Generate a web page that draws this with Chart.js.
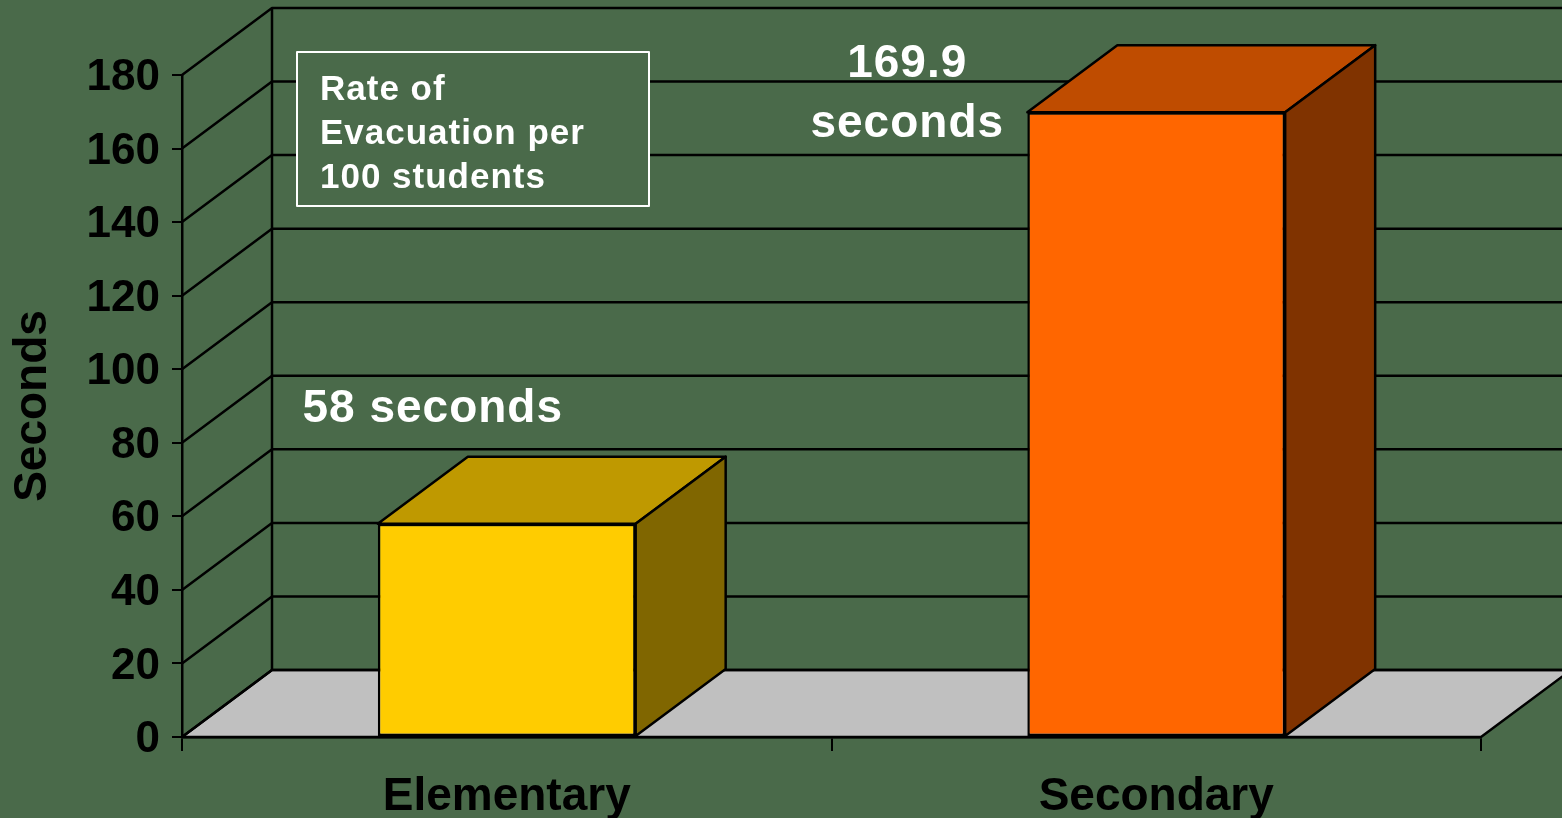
<!DOCTYPE html>
<html>
<head>
<meta charset="utf-8">
<title>Rate of Evacuation per 100 students</title>
<script src="https://cdn.jsdelivr.net/npm/chart.js@4.4.1/dist/chart.umd.min.js"></script>
<style>
  html, body { margin: 0; padding: 0; background: #4a6a4a; overflow: hidden; }
  #wrap { width: 1562px; height: 818px; position: relative; }
</style>
</head>
<body>
<div id="wrap"><canvas id="myChart"></canvas></div>
<script>
// Chart data

const categories = ["Elementary", "Secondary"];
const seconds = [58, 169.9];
const barLabels = [["58 seconds"], ["169.9", "seconds"]];
const yTicks = [0, 20, 40, 60, 80, 100, 120, 140, 160, 180];
const noteLines = ["Rate of", "Evacuation per", "100 students"];

// Colours of the boxes: front, top and side faces
const frontColors = ["#ffcc00", "#ff6600"];
const topColors = ["#bf9900", "#bf4c00"];
const sideColors = ["#806600", "#803300"];

const bgColor = "#4a6a4a";
const fontFamily = "'Liberation Sans', Arial, sans-serif";

// Depth of the 3D look (pixels to the right and up)
const depthX = 90;
const depthY = -67;

// Where the value labels sit, measured from the bar centre and bar top
const labelShift = [{dx: -74, dy: -102}, {dx: -249, dy: -35}];


const threeD = {
    id: "threeD",

    // back wall and floor go under the bars
    beforeDatasetsDraw(chart) {
        const ctx = chart.ctx;
        const area = chart.chartArea;
        const yScale = chart.scales.y;

        ctx.save();
        ctx.lineWidth = 2.5;
        ctx.strokeStyle = "#000";
        ctx.lineJoin = "round";

        // floor
        ctx.beginPath();
        ctx.moveTo(area.left, area.bottom);
        ctx.lineTo(area.left + depthX, area.bottom + depthY);
        ctx.lineTo(area.right + depthX, area.bottom + depthY);
        ctx.lineTo(area.right, area.bottom);
        ctx.closePath();
        ctx.fillStyle = "#c0c0c0";
        ctx.fill();
        ctx.stroke();

        // side wall diagonals and back wall gridlines
        for (let v of yTicks) {
            let py = yScale.getPixelForValue(v);
            ctx.beginPath();
            ctx.moveTo(area.left, py);
            ctx.lineTo(area.left + depthX, py + depthY);
            ctx.lineTo(chart.width, py + depthY);
            ctx.stroke();
        }

        // back corner
        ctx.beginPath();
        ctx.moveTo(area.left + depthX, area.top + depthY);
        ctx.lineTo(area.left + depthX, area.bottom + depthY);
        ctx.stroke();

        // text box on the wall
        const bx = area.left + 115;
        const by = area.top - 23;
        ctx.fillStyle = bgColor;
        ctx.fillRect(bx, by, 352, 154);
        ctx.lineWidth = 2;
        ctx.strokeStyle = "#fff";
        ctx.strokeRect(bx, by, 352, 154);
        ctx.fillStyle = "#fff";
        ctx.font = "bold 35px " + fontFamily;
        ctx.letterSpacing = "1px";
        ctx.textAlign = "left";
        ctx.textBaseline = "alphabetic";
        noteLines.forEach((line, i) => {
            ctx.fillText(line, bx + 23, by + 48 + i * 44);
        });

        ctx.restore();
    },

    // top and side faces of each bar, then the value labels
    afterDatasetsDraw(chart) {
        const ctx = chart.ctx;
        const bars = chart.getDatasetMeta(0).data;

        ctx.save();
        ctx.lineWidth = 2.5;
        ctx.strokeStyle = "#000";
        ctx.lineJoin = "round";

        bars.forEach((bar, i) => {
            let left = bar.x - bar.width / 2;
            let right = bar.x + bar.width / 2;
            let top = bar.y;
            let base = bar.base;

            // top face
            ctx.beginPath();
            ctx.moveTo(left, top);
            ctx.lineTo(left + depthX, top + depthY);
            ctx.lineTo(right + depthX, top + depthY);
            ctx.lineTo(right, top);
            ctx.closePath();
            ctx.fillStyle = topColors[i];
            ctx.fill();
            ctx.stroke();

            // side face
            ctx.beginPath();
            ctx.moveTo(right, top);
            ctx.lineTo(right + depthX, top + depthY);
            ctx.lineTo(right + depthX, base + depthY);
            ctx.lineTo(right, base);
            ctx.closePath();
            ctx.fillStyle = sideColors[i];
            ctx.fill();
            ctx.stroke();

            // value label
            ctx.fillStyle = "#fff";
            ctx.font = "bold 46px " + fontFamily;
            ctx.letterSpacing = "1px";
            ctx.textAlign = "center";
            ctx.textBaseline = "alphabetic";
            barLabels[i].forEach((line, k) => {
                ctx.fillText(line, bar.x + labelShift[i].dx, top + labelShift[i].dy + k * 60);
            });
        });

        ctx.restore();
    }
};


let chart = new Chart("myChart", {
    type: "bar",
    data: {
        labels: categories,
        datasets: [{
            label: "Seconds",
            data: seconds,
            backgroundColor: frontColors,
            borderColor: "#000",
            borderWidth: 2.5,
            borderSkipped: false,
            categoryPercentage: 1,
            barPercentage: 0.397
        }]
    },
    options: {
        responsive: true,
        maintainAspectRatio: false,
        animation: false,
        layout: {padding: {top: 75, right: 81, left: 0, bottom: 0}},
        plugins: {
            legend: {display: false},
            tooltip: {enabled: false}
        },
        scales: {
            x: {
                z: 1,
                afterFit: s => { s.height = 81; },
                grid: {
                    drawOnChartArea: false,
                    drawTicks: true,
                    tickLength: 14,
                    color: "#000",
                    lineWidth: 2
                },
                border: {display: true, color: "#000", width: 2.5},
                ticks: {
                    color: "#000",
                    padding: 19,
                    font: {family: fontFamily, size: 46, weight: "bold"}
                }
            },
            y: {
                z: 1,
                min: 0,
                max: 180,
                afterFit: s => { s.width = 182; },
                afterBuildTicks: s => { s.ticks = yTicks.map(v => ({value: v})); },
                grid: {
                    drawOnChartArea: false,
                    drawTicks: true,
                    tickLength: 10,
                    color: "#000",
                    lineWidth: 2
                },
                border: {display: true, color: "#000", width: 2.5},
                ticks: {
                    color: "#000",
                    padding: 12,
                    labelOffset: 3,
                    font: {family: fontFamily, size: 44, weight: "bold"}
                },
                title: {
                    display: true,
                    text: "Seconds",
                    color: "#000",
                    padding: {top: 6, bottom: 0},
                    font: {family: fontFamily, size: 46, weight: "bold"}
                }
            }
        }
    },
    plugins: [threeD]
});
</script>
</body>
</html>
